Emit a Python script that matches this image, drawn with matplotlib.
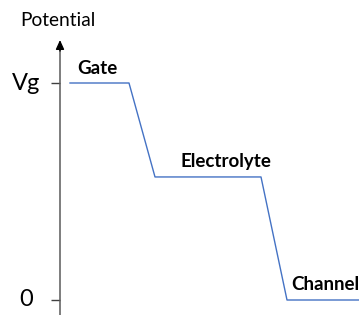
import matplotlib
matplotlib.use("Agg")
import matplotlib.pyplot as plt
from matplotlib.transforms import blended_transform_factory

# Data
position = [10, 69, 95, 201, 227, 299]
potential = [1.0, 1.0, 0.567, 0.567, 0.0, 0.0]
tick_values = [0.0, 1.0]
tick_labels = ["0", "Vg"]
region_labels = ["Gate", "Electrolyte", "Channel"]
region_pos = [(17, 1.041), (120, 0.613), (231, 0.046)]

W, H = 359, 315
fig = plt.figure(figsize=(W / 100, H / 100), dpi=100)
ax = fig.add_axes([60 / W, 0, 299 / W, 275 / H])
ax.set_xlim(0, 299)
ax.set_ylim(-15 / 217, 1 + 43 / 217)
ax.patch.set_alpha(0)

ax.plot(position, potential, color="#4472C4", lw=1.0, clip_on=False)

for s in ["top", "right", "bottom", "left"]:
    ax.spines[s].set_visible(False)
ax.set_xticks([])
ax.set_yticks(tick_values)
ax.set_yticklabels([])
ax.tick_params(axis="y", length=6.5, width=1.0, color="#404040", direction="out")

bt = blended_transform_factory(ax.transAxes, ax.transData)
# axis shaft (gray) and arrow head (black)
ax.plot([0, 0], [-1, 1.17], color="#5a5a5a", lw=1.1, transform=bt, clip_on=False)
ax.annotate("", xy=(0, 1.0), xycoords="axes fraction", xytext=(0, 0.96),
            textcoords="axes fraction",
            arrowprops=dict(arrowstyle="-|>,head_length=0.55,head_width=0.25",
                            color="#000000", lw=1.0, shrinkA=0, shrinkB=0))

font = "Lato"
for v, lab in zip(tick_values, tick_labels):
    ax.text((26 - 60) / 299, v, lab, transform=bt, ha="center", va="center",
            fontsize=17, family=font, color="#000000")

for lab, (x, y) in zip(region_labels, region_pos):
    ax.text(x, y, lab, ha="left", va="baseline", fontsize=13.5, fontweight="bold",
            family=font, color="#000000", clip_on=False)

fig.text(20 / W, 1 - 26 / H, "Potential", ha="left", va="baseline",
         fontsize=13.8, family=font, color="#000000")

fig.savefig("out.png", dpi=100)
